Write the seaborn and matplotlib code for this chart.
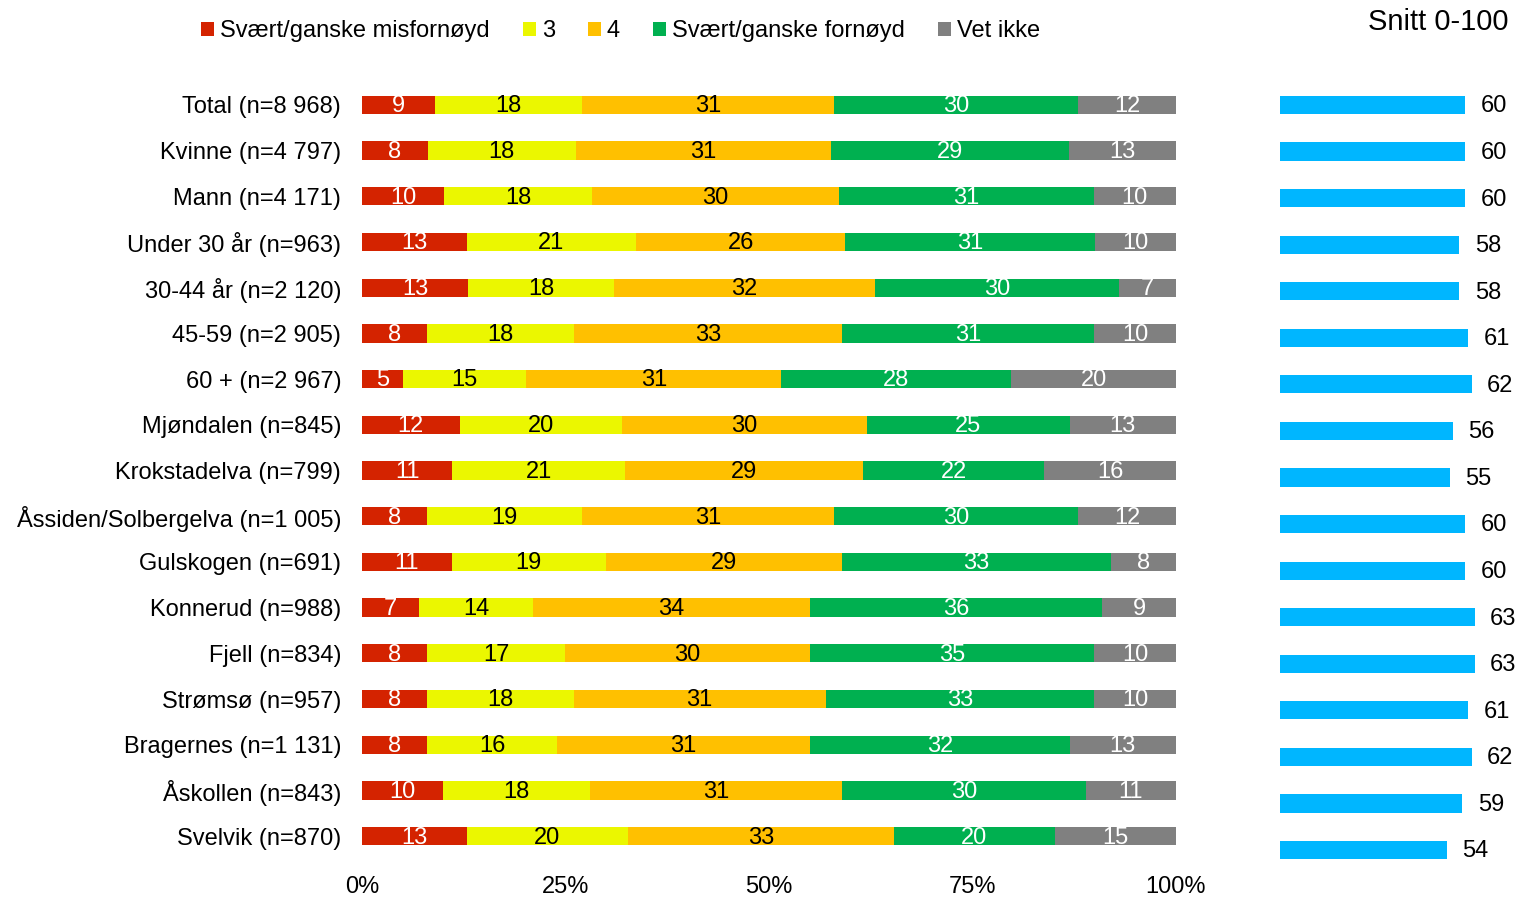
import numpy as np
import pandas as pd
import matplotlib.pyplot as plt
import seaborn as sns
from matplotlib.patches import Patch

# Data
groups = ["Total (n=8 968)", "Kvinne (n=4 797)", "Mann (n=4 171)", "Under 30 år (n=963)",
          "30-44 år (n=2 120)", "45-59 (n=2 905)", "60 + (n=2 967)", "Mjøndalen (n=845)",
          "Krokstadelva (n=799)", "Åssiden/Solbergelva (n=1 005)", "Gulskogen (n=691)",
          "Konnerud (n=988)", "Fjell (n=834)", "Strømsø (n=957)", "Bragernes (n=1 131)",
          "Åskollen (n=843)", "Svelvik (n=870)"]
misfornoyd = [9, 8, 10, 13, 13, 8, 5, 12, 11, 8, 11, 7, 8, 8, 8, 10, 13]
tre = [18, 18, 18, 21, 18, 18, 15, 20, 21, 19, 19, 14, 17, 18, 16, 18, 20]
fire = [31, 31, 30, 26, 32, 33, 31, 30, 29, 31, 29, 34, 30, 31, 31, 31, 33]
fornoyd = [30, 29, 31, 31, 30, 31, 28, 25, 22, 30, 33, 36, 35, 33, 32, 30, 20]
vet_ikke = [12, 13, 10, 10, 7, 10, 20, 13, 16, 12, 8, 9, 10, 10, 13, 11, 15]
snitt = [60, 60, 60, 58, 58, 61, 62, 56, 55, 60, 60, 63, 63, 61, 62, 59, 54]

series = ["Svært/ganske misfornøyd", "3", "4", "Svært/ganske fornøyd", "Vet ikke"]
colors = ["#D42300", "#EBF700", "#FFC000", "#00B050", "#808080"]
text_colors = ["white", "black", "black", "white", "white"]

df = pd.DataFrame(dict(zip(series, [misfornoyd, tre, fire, fornoyd, vet_ikke])), index=groups)
share = df.div(df.sum(axis=1), axis=0) * 100
cum = share.cumsum(axis=1)

sns.set_theme(style="white")
plt.rcParams['font.family'] = ['Liberation Sans', 'DejaVu Sans']
plt.rcParams['text.color'] = 'black'
plt.rcParams['xtick.color'] = 'black'
plt.rcParams['ytick.color'] = 'black'
fs = 17

fig = plt.figure(figsize=(15.21, 8.98), dpi=100)
ax = fig.add_axes([0.238, 0.0434, 0.535, 0.8653])
ax2 = fig.add_axes([0.8415, 0.0275, 0.1585, 0.8815])

# stacked bars: draw cumulative totals from the widest down
for i in range(len(series) - 1, -1, -1):
    sns.barplot(x=cum.iloc[:, i].values, y=groups, color=colors[i], width=0.4,
                orient="h", saturation=1, ax=ax, linewidth=0)

for i, s in enumerate(series):
    starts = cum.iloc[:, i] - share.iloc[:, i]
    mids = starts + share.iloc[:, i] / 2
    for j, (m, v) in enumerate(zip(mids, df[s])):
        ax.text(m, j + 0.03, str(v), ha="center", va="center", fontsize=fs,
                color=text_colors[i])

ax.set_xlim(0, 100)
ax.set_ylim(len(groups) - 0.5, -0.5)
ax.set_xticks([0, 25, 50, 75, 100])
ax.set_xticklabels(["0%", "25%", "50%", "75%", "100%"])
ax.tick_params(axis="both", length=0, labelsize=fs, colors="black")
ax.tick_params(axis="y", pad=15)
ax.tick_params(axis="x", pad=12)
ax.set_xlabel("")
ax.set_ylabel("")
sns.despine(ax=ax, left=True, bottom=True)

# average score bars
sns.barplot(x=snitt, y=groups, color="#00B6FF", width=0.39, orient="h",
            saturation=1, ax=ax2, linewidth=0)
for j, v in enumerate(snitt):
    ax2.text(v + 5, j + 0.03, str(v), ha="left", va="center", fontsize=fs, color="black")
ax2.set_xlim(0, 78)
ax2.set_ylim(len(groups) - 0.5, -0.5)
ax2.set_xticks([])
ax2.set_yticks([])
ax2.set_xlabel("")
ax2.set_ylabel("")
sns.despine(ax=ax2, left=True, bottom=True)

fig.text(0.9915, 0.976, "Snitt 0-100", ha="right", va="center", fontsize=21, color="black")

handles = [Patch(facecolor=c, edgecolor="none") for c in colors]
fig.legend(handles, series, loc="center", bbox_to_anchor=(0.408, 0.965), ncol=5,
           frameon=False, fontsize=fs, handlelength=0.55, handleheight=0.55,
           handletextpad=0.25, columnspacing=1.4, labelcolor="black")

plt.savefig("out.png", dpi=100)
